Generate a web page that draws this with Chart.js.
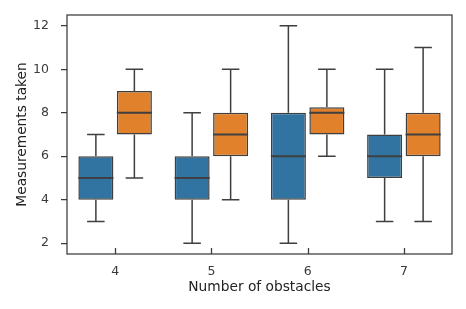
<!DOCTYPE html>
<html><head><meta charset="utf-8">
<script src="https://cdn.jsdelivr.net/npm/chart.js@4"></script>
<style>html,body{margin:0;padding:0;background:#fff}#wrap{width:466px;height:309px}</style>
</head><body><div id="wrap"><canvas id="c" width="466" height="309"></canvas></div>
<script>
const categories = ['4', '5', '6', '7'];
const blueMin = [3, 2, 2, 3];
const blueQ1  = [4, 4, 4, 5];
const blueMed = [5, 5, 6, 6];
const blueQ3  = [6, 6, 8, 7];
const blueMax = [7, 8, 12, 10];
const orangeMin = [5, 4, 6, 3];
const orangeQ1  = [7, 6, 7, 6];
const orangeMed = [8, 7, 8, 7];
const orangeQ3  = [9, 8, 8.25, 8];
const orangeMax = [10, 10, 10, 11];
const yTicks = [2, 4, 6, 8, 10, 12];
const xTitle = 'Number of obstacles';
const yTitle = 'Measurements taken';

const EDGE = '#3f3f3f';
const SPINE = '#3a3a3a';
const stats = [
  {min: blueMin, q1: blueQ1, med: blueMed, q3: blueQ3, max: blueMax},
  {min: orangeMin, q1: orangeQ1, med: orangeMed, q3: orangeQ3, max: orangeMax}
];

const boxPlugin = {
  id: 'boxParts',
  afterDatasetsDraw(chart) {
    const ctx = chart.ctx, y = chart.scales.y, xs = chart.scales.x;
    ctx.save();
    ctx.strokeStyle = EDGE;
    stats.forEach((s, di) => {
      const meta = chart.getDatasetMeta(di);
      meta.data.forEach((el, j) => {
        const x = el.x, w = el.width;
        const ymin = y.getPixelForValue(s.min[j]), yq1 = y.getPixelForValue(s.q1[j]);
        const yq3 = y.getPixelForValue(s.q3[j]), ymax = y.getPixelForValue(s.max[j]);
        const ymed = y.getPixelForValue(s.med[j]);
        ctx.lineWidth = 1.5;
        ctx.beginPath();
        ctx.moveTo(x, yq1); ctx.lineTo(x, ymin);
        ctx.moveTo(x - w / 4, ymin); ctx.lineTo(x + w / 4, ymin);
        ctx.moveTo(x, yq3); ctx.lineTo(x, ymax);
        ctx.moveTo(x - w / 4, ymax); ctx.lineTo(x + w / 4, ymax);
        ctx.stroke();
        ctx.lineWidth = 2;
        ctx.beginPath();
        ctx.moveTo(x - w / 2, ymed); ctx.lineTo(x + w / 2, ymed);
        ctx.stroke();
      });
    });
    const a = chart.chartArea;
    ctx.lineWidth = 1.25;
    ctx.strokeStyle = SPINE;
    ctx.strokeRect(a.left, a.top, a.right - a.left, a.bottom - a.top);
    // inward x ticks
    ctx.beginPath();
    xs.ticks.forEach((t, i) => {
      const px = Math.round(xs.getPixelForTick(i)) + 0.5;
      ctx.moveTo(px, a.bottom); ctx.lineTo(px, a.bottom - 6);
    });
    ctx.stroke();
    // axis titles
    ctx.fillStyle = '#222';
    ctx.font = '13.75px "DejaVu Sans"';
    ctx.textAlign = 'center';
    ctx.textBaseline = 'alphabetic';
    ctx.fillText(xTitle, (a.left + a.right) / 2, 291);
    ctx.translate(26, (a.top + a.bottom) / 2);
    ctx.rotate(-Math.PI / 2);
    ctx.fillText(yTitle, 0, 0);
    ctx.restore();
  }
};

new Chart(document.getElementById('c'), {
  type: 'bar',
  data: {
    labels: categories,
    datasets: [
      {data: categories.map((_, i) => [blueQ1[i], blueQ3[i]]), backgroundColor: '#3274a1', borderColor: EDGE, borderWidth: 1.5, borderSkipped: false},
      {data: categories.map((_, i) => [orangeQ1[i], orangeQ3[i]]), backgroundColor: '#e1812c', borderColor: EDGE, borderWidth: 1.5, borderSkipped: false}
    ]
  },
  options: {
    responsive: false,
    animation: false,
    devicePixelRatio: 1,
    layout: {padding: {left: 0, right: 14, top: 15, bottom: 0}},
    datasets: {bar: {categoryPercentage: 0.8, barPercentage: 0.91}},
    plugins: {legend: {display: false}, tooltip: {enabled: false}},
    scales: {
      x: {
        grid: {display: false, drawTicks: false, tickLength: 0},
        border: {display: false},
        ticks: {color: '#3a3a3a', font: {family: 'DejaVu Sans', size: 12.5}, padding: 10},
        afterFit(s) { s.height = 55; s.paddingLeft = 0; s.paddingRight = 0; }
      },
      y: {
        min: 1.5, max: 12.5,
        afterBuildTicks(s) { s.ticks = yTicks.map(v => ({value: v})); },
        grid: {display: true, drawOnChartArea: false, drawTicks: true, tickLength: 6, color: SPINE, lineWidth: 1.25},
        border: {display: false},
        ticks: {color: '#3a3a3a', font: {family: 'DejaVu Sans', size: 12.5}, padding: 12},
        afterFit(s) { s.width = 67; s.paddingTop = 0; s.paddingBottom = 0; }
      }
    }
  },
  plugins: [boxPlugin]
});
</script></body></html>
